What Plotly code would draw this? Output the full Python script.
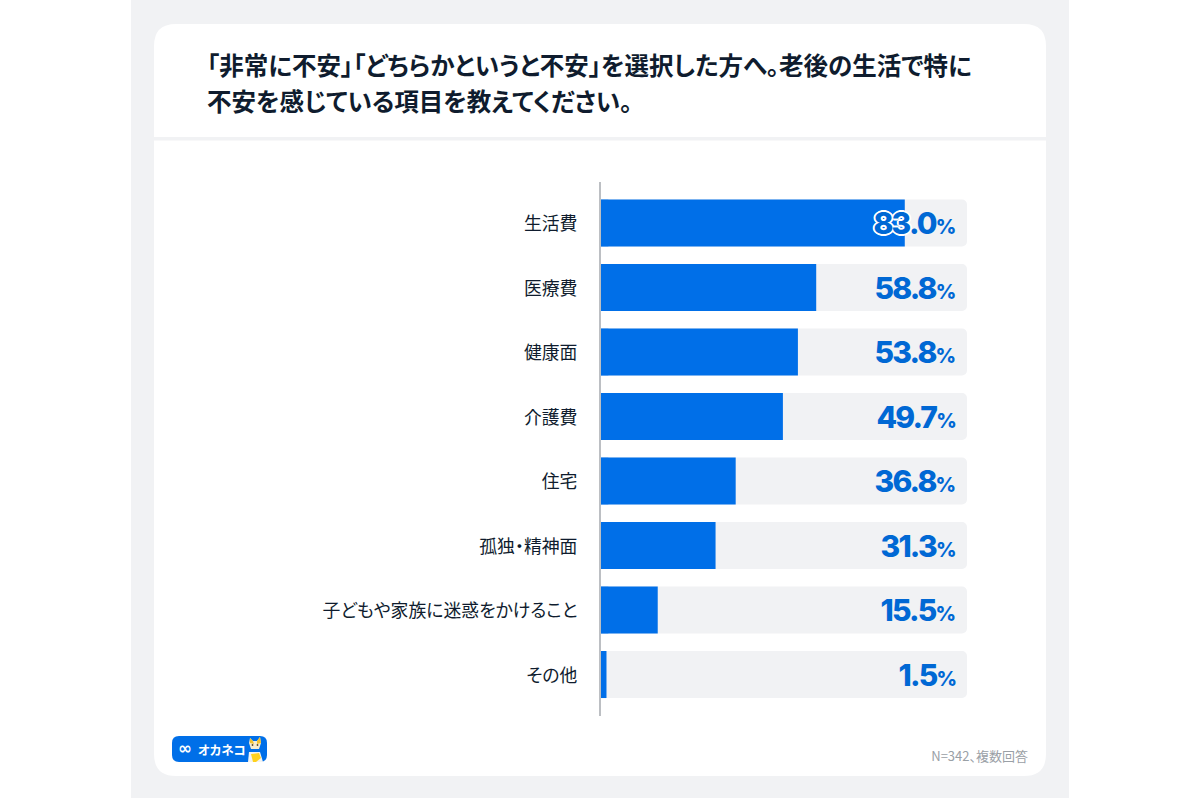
import plotly.graph_objects as go

# data
categories = [
    "生活費",
    "医療費",
    "健康面",
    "介護費",
    "住宅",
    "孤独・精神面",
    "子どもや家族に迷惑をかけること",
    "その他",
]
values = [83.0, 58.8, 53.8, 49.7, 36.8, 31.3, 15.5, 1.5]
full_scale = [100] * len(categories)

title_lines = [
    "「非常に不安」「どちらかというと不安」を選択した方へ。老後の生活で特に",
    "不安を感じている項目を教えてください。",
]
note_text = "N=342、複数回答"
logo_text = "オカネコ"

W, H = 1200, 800
BLUE = "#006fe8"
LABEL_BLUE = "#0068d4"
TRACK = "#f1f2f4"
INK = "#0f1c2e"
JP_FONT = "Noto Sans CJK JP"
HALO = ",".join(
    f"{dx}px {dy}px 0.6px white"
    for dx, dy in [(-2, 0), (2, 0), (0, -2), (0, 2), (-1.4, -1.4), (1.4, -1.4), (-1.4, 1.4), (1.4, 1.4)]
)


def px(x):
    return x / W


def py(y):
    return 1 - y / H


def round_rect(x0, y0, x1, y1, r, fill, layer="below"):
    # rounded box in page pixels
    path = (
        f"M {px(x0 + r)} {py(y0)} L {px(x1 - r)} {py(y0)} "
        f"Q {px(x1)} {py(y0)} {px(x1)} {py(y0 + r)} L {px(x1)} {py(y1 - r)} "
        f"Q {px(x1)} {py(y1)} {px(x1 - r)} {py(y1)} L {px(x0 + r)} {py(y1)} "
        f"Q {px(x0)} {py(y1)} {px(x0)} {py(y1 - r)} L {px(x0)} {py(y0 + r)} "
        f"Q {px(x0)} {py(y0)} {px(x0 + r)} {py(y0)} Z"
    )
    return dict(
        type="path", xref="paper", yref="paper", path=path,
        fillcolor=fill, line_width=0, layer=layer,
    )


def box(x0, y0, x1, y1, fill, layer="below"):
    return dict(
        type="rect", xref="paper", yref="paper",
        x0=px(x0), x1=px(x1), y0=py(y1), y1=py(y0),
        fillcolor=fill, line_width=0, layer=layer,
    )


def poly(points, fill):
    path = "M " + " L ".join(f"{px(x)} {py(y)}" for x, y in points) + " Z"
    return dict(
        type="path", xref="paper", yref="paper", path=path,
        fillcolor=fill, line_width=0, layer="below",
    )


def dot(x, y, r, fill):
    return dict(
        type="circle", xref="paper", yref="paper",
        x0=px(x - r), x1=px(x + r), y0=py(y + r), y1=py(y - r),
        fillcolor=fill, line_width=0, layer="below",
    )


fig = go.Figure()

# grey track behind each bar
fig.add_trace(
    go.Bar(
        x=full_scale, y=categories, orientation="h",
        marker=dict(color=TRACK, cornerradius=5, line_width=0),
        hoverinfo="skip", showlegend=False,
    )
)
fig.add_trace(
    go.Bar(
        x=values, y=categories, orientation="h",
        marker=dict(color=BLUE, cornerradius=5, line_width=0),
        showlegend=False,
    )
)
# square stub so only the right end of the bars looks rounded
fig.add_trace(
    go.Bar(
        x=[min(v / 2, 2) for v in values], y=categories, orientation="h",
        width=0.72,
        marker=dict(color=BLUE, line_width=0),
        hoverinfo="skip", showlegend=False,
    )
)

annotations = []
for cat, val in zip(categories, values):
    whole, frac = f"{val:.1f}".split(".")
    # the long bar runs under the number, so its digits get a white outline
    if val > 75:
        whole = f"<span style='text-shadow:{HALO}'>{whole}</span>"
    annotations.append(
        dict(
            x=100, y=cat, xref="x", yref="y",
            xanchor="right", yanchor="middle", xshift=-6, yshift=0,
            showarrow=False,
            text=f"{whole}.{frac}<span style='font-size:20px'>%</span>",
            font=dict(family="Inter", size=30, color=LABEL_BLUE, weight=800),
        )
    )

for line, line_y in zip(title_lines, [64.5, 100.5]):
    annotations.append(
        dict(
            x=px(205), y=py(line_y), xref="paper", yref="paper",
            xanchor="left", yanchor="middle", align="left", showarrow=False,
            text=f"<b>{line}</b>",
            font=dict(family=JP_FONT, size=24.5, color=INK),
        )
    )
annotations.append(
    dict(
        x=px(1033), y=py(755), xref="paper", yref="paper",
        xanchor="right", yanchor="middle", showarrow=False,
        text=note_text,
        font=dict(family=JP_FONT, size=13, color="#9aa0a6"),
    )
)
annotations.append(
    dict(
        x=px(176), y=py(748), xref="paper", yref="paper",
        xanchor="left", yanchor="middle", showarrow=False,
        text="<b>∞</b>",
        font=dict(family="DejaVu Sans", size=17, color="white"),
    )
)
annotations.append(
    dict(
        x=px(195), y=py(749), xref="paper", yref="paper",
        xanchor="left", yanchor="middle", showarrow=False,
        text=f"<b>{logo_text}</b>",
        font=dict(family=JP_FONT, size=12.5, color="white"),
    )
)

shapes = [
    box(131, 0, 1069, 798, TRACK),
    round_rect(154, 24, 1046, 776, 22, "white"),
    box(154, 137, 1046, 140.5, TRACK),
    round_rect(172, 736, 267, 762, 7, BLUE),
    # little cat on the logo
    poly([(248, 762), (249, 752), (260, 752), (263, 762)], "#f4f4f2"),
    poly([(249, 743), (250, 738), (253, 741), (257, 741), (260, 737), (261, 743), (259, 749), (251, 749)], "#f6ecd0"),
    poly([(250, 743), (250, 738), (253, 741), (254, 744)], "#f2c230"),
    poly([(257, 741), (260, 737), (261, 743), (257, 744)], "#f2c230"),
    dot(252.5, 745, 0.9, "#5a4a2a"),
    dot(257.5, 745, 0.9, "#5a4a2a"),
    poly([(251, 754), (259, 753), (261, 758), (256, 762), (253, 762)], "#ffd21f"),
]

fig.update_layout(
    width=W,
    height=H,
    margin=dict(l=0, r=0, t=0, b=0),
    paper_bgcolor="white",
    plot_bgcolor="rgba(0,0,0,0)",
    barmode="overlay",
    bargap=0.271,
    annotations=annotations,
    shapes=shapes,
    xaxis=dict(
        domain=[px(601), px(967)],
        range=[0, 100],
        showgrid=False, zeroline=False, showticklabels=False, ticks="",
    ),
    yaxis=dict(
        domain=[py(716), py(182)],
        range=[7.643, -0.636],
        autorange=False,
        showgrid=False, zeroline=False,
        showline=True, linecolor="#bcbfc3", linewidth=2,
        ticks="", ticklabelstandoff=18,
        tickfont=dict(family=JP_FONT, size=17.85, color=INK),
    ),
)

# page margin off, proportional kana like the original, tighter numbers
post_script = """
var style = document.createElement('style');
style.textContent = 'body{margin:0} svg text{font-feature-settings:"palt"} '
    + 'text.annotation-text[style*="Inter"]{letter-spacing:-1.8px} '
    + 'g.ytick{transform:translateY(1px)}';
document.head.appendChild(style);
Plotly.redraw(document.getElementById('{plot_id}'));
"""

fig.write_html("out.html", post_script=post_script, config=dict(displayModeBar=False))
